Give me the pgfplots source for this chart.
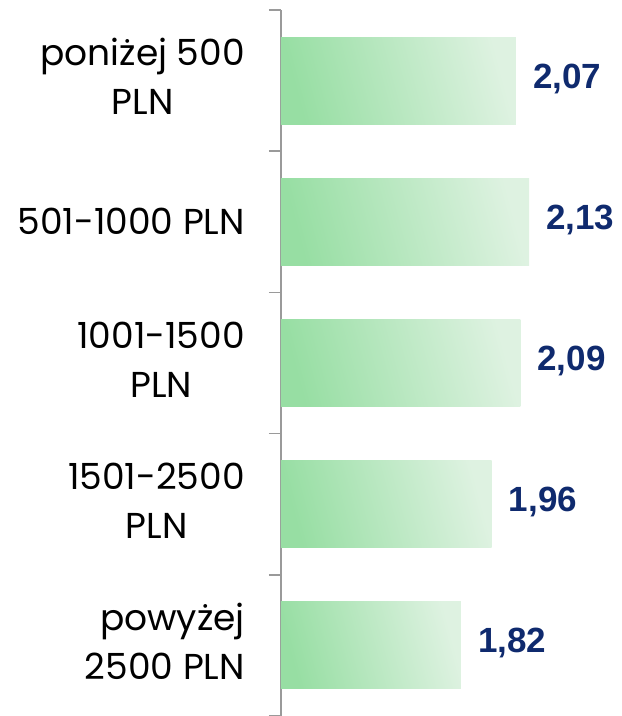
\documentclass[border=0pt]{standalone}
\usepackage{pgfplots}
\usepackage{pgfplotstable}
\pgfplotsset{compat=1.18}
\usepackage{fontspec}
\setmainfont{Poppins}
\newfontfamily\valfont{Liberation Sans}
\definecolor{barL}{HTML}{97DEA3}
\definecolor{barR}{HTML}{DEF2E1}
\definecolor{navy}{HTML}{0F2A6E}
\definecolor{axgray}{HTML}{9A9A9A}
\pgfplotstableread{
idx v
0 2.07
1 2.13
2 2.09
3 1.96
4 1.82
}\data
\begin{document}
\begin{tikzpicture}
\begin{axis}[
  scale only axis, width=340pt, height=706pt,
  xmin=0, xmax=1.549, ymin=-0.5, ymax=4.5, y dir=reverse,
  hide x axis,
  axis y line=left,
  y axis line style={-, draw=axgray, line width=1.5pt},
  ytick={0,1,2,3,4},
  yticklabels={
    {\begin{tabular}{@{}c@{}}poniżej 500\\PLN\end{tabular}},
    {501-1000 PLN},
    {\begin{tabular}{@{}c@{}}1001-1500\\PLN\end{tabular}},
    {\begin{tabular}{@{}c@{}}1501-2500\\PLN\end{tabular}},
    {\begin{tabular}{@{}r@{}}powyżej\\2500 PLN\end{tabular}}},
  major tick length=0pt,
  minor ytick={-0.5,0.5,1.5,2.5,3.5,4.5},
  minor tick length=12pt,
  tick align=outside,
  minor tick style={draw=axgray, line width=1.5pt},
  yticklabel style={font=\fontsize{36}{49}\selectfont, inner sep=0pt, xshift=-36pt},
  /pgf/number format/assume math mode=true,
]
\pgfplotsinvokeforeach{0,1,2,3,4}{
\addplot[xbar, bar width=87pt, bar shift=0pt, draw=none, left color=barL, right color=barR, shading angle=105,
  restrict y to domain=#1:#1,
  point meta=\thisrow{v},
  nodes near coords,
  nodes near coords style={anchor=west, inner sep=0pt, xshift=17pt, yshift=2pt, text=navy,
    font=\valfont\bfseries\fontsize{35}{40}\selectfont,
    /pgf/number format/.cd, fixed, zerofill, precision=2, use comma, assume math mode=true},
] table[x expr=\thisrow{v}-1, y=idx] {\data};
}
\end{axis}
\pgfresetboundingbox
\path ([xshift=-281pt]current axis.south west) rectangle ([yshift=10pt]current axis.north east);
\end{tikzpicture}
\end{document}
